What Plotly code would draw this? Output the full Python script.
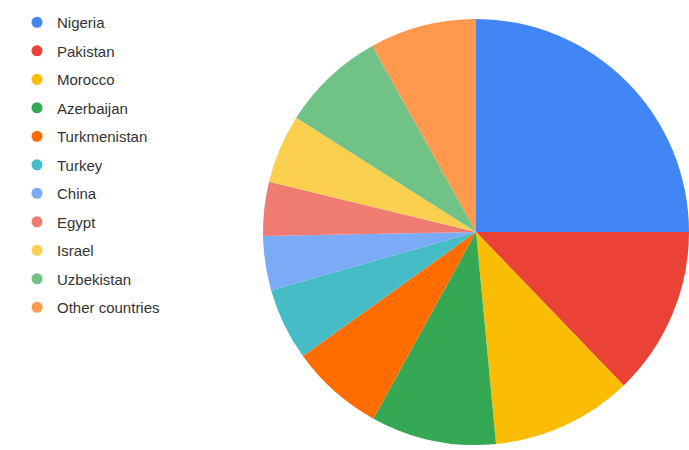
import plotly.graph_objects as go

countries = ["Nigeria", "Pakistan", "Morocco", "Azerbaijan", "Turkmenistan",
             "Turkey", "China", "Egypt", "Israel", "Uzbekistan", "Other countries"]
shares = [25.0, 12.8, 10.7, 9.5, 7.1, 5.5, 4.1, 4.1, 5.2, 7.9, 8.1]
colors = ["#4285F4", "#EA4335", "#FBBC04", "#34A853", "#FF6D01", "#46BDC6",
          "#7BAAF7", "#F07B72", "#FCD04F", "#71C287", "#FF994D"]

W, H = 689, 450

fig = go.Figure()

fig.add_trace(go.Pie(
    labels=countries,
    values=shares,
    marker=dict(colors=colors, line=dict(width=0)),
    sort=False,
    direction="clockwise",
    rotation=0,
    textinfo="none",
    hoverinfo="label+percent",
    showlegend=False,
    domain=dict(x=[263 / W, 1.0], y=[4 / H, 432 / H]),
))

# circular legend keys, one entry per country
for name, col in zip(countries, colors):
    fig.add_trace(go.Scatter(
        x=[None], y=[None], mode="markers", name=name,
        legendgroup=name,
        marker=dict(color=col, size=11, symbol="circle"),
        hoverinfo="skip",
    ))

fig.update_layout(
    width=W, height=H,
    margin=dict(l=0, r=0, t=0, b=0),
    paper_bgcolor="white",
    plot_bgcolor="white",
    xaxis=dict(visible=False),
    yaxis=dict(visible=False),
    font=dict(family="Liberation Sans, Arial, sans-serif", size=15, color="#333333"),
    legend=dict(
        x=17 / W, y=1 - 6 / H, xanchor="left", yanchor="top",
        traceorder="grouped", tracegroupgap=6,
        bgcolor="rgba(0,0,0,0)", itemsizing="trace",
        font=dict(size=15, color="#333333"),
    ),
)

fig.write_html("out.html")
